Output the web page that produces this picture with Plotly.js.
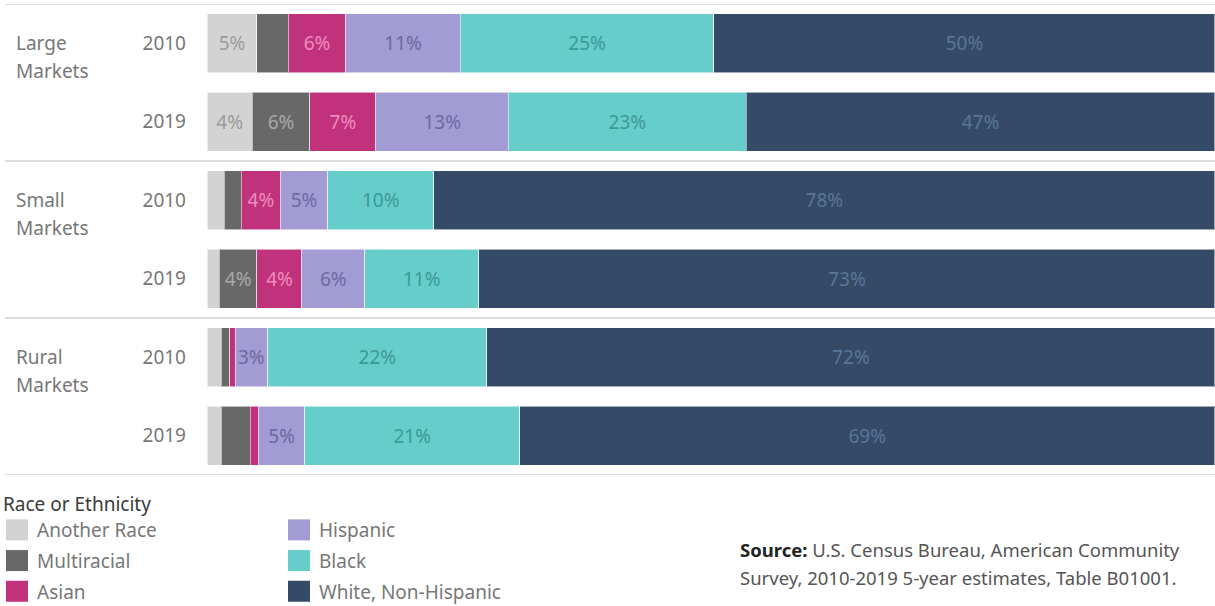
<!DOCTYPE html>
<html>
<head>
<meta charset="utf-8">
<script src="https://cdn.plot.ly/plotly-3.0.1.min.js"></script>
<style>
  html, body { margin: 0; padding: 0; background: #ffffff; }
  #chart { width: 1215px; height: 606px; }
</style>
</head>
<body>
<div id="chart"></div>
<script>
// ---------- data ----------
const groups = ['Large Markets', 'Small Markets', 'Rural Markets'];
const years = ['2010', '2019'];

// one row per group/year, top to bottom
const categories = ['Large Markets 2010', 'Large Markets 2019',
                    'Small Markets 2010', 'Small Markets 2019',
                    'Rural Markets 2010', 'Rural Markets 2019'];
const yearLabels = ['2010', '2019', '2010', '2019', '2010', '2019'];

const seriesNames = ['Another Race', 'Multiracial', 'Asian', 'Hispanic', 'Black', 'White, Non-Hispanic'];

// shares in percent
const anotherRace = [4.96, 4.49, 1.72, 1.22, 1.39, 1.39];
const multiracial = [3.08, 5.72, 1.69, 3.74, 0.85, 2.91];
const asian       = [5.75, 6.55, 3.87, 4.46, 0.54, 0.79];
const hispanic    = [11.34, 13.15, 4.69, 6.21, 3.23, 4.63];
const black       = [25.17, 23.58, 10.52, 11.35, 21.77, 21.29];
const white       = [49.70, 46.51, 77.51, 73.02, 72.22, 68.99];

// labels shown on the bars
const anotherLabels  = ['5%', '4%', '', '', '', ''];
const multiLabels    = ['', '6%', '', '4%', '', ''];
const asianLabels    = ['6%', '7%', '4%', '4%', '', ''];
const hispanicLabels = ['11%', '13%', '5%', '6%', '3%', '5%'];
const blackLabels    = ['25%', '23%', '10%', '11%', '22%', '21%'];
const whiteLabels    = ['50%', '47%', '78%', '73%', '72%', '69%'];

// ---------- styles ----------
const FONT = '"Noto Sans", "DejaVu Sans", sans-serif';
const fillColors = ['#d3d3d3', '#686868', '#c1327c', '#a39cd4', '#66cdcb', '#344a66'];
const textColors = ['#9b9b9b', '#a9a9a9', '#ee8cbf', '#6d69a3', '#3e9897', '#5a7698'];
const legendOf   = ['legend', 'legend', 'legend', 'legend2', 'legend2', 'legend2'];

const values = [anotherRace, multiracial, asian, hispanic, black, white];
const labels = [anotherLabels, multiLabels, asianLabels, hispanicLabels, blackLabels, whiteLabels];

// pixel helpers for layout placement (plot area 207..1215 x 4..475)
const PL = 207, PR = 1215, PT = 4, PB = 475;
const px2x = p => (p - PL) / (PR - PL);
const px2y = p => (PB - p) / (PB - PT);

const traces = seriesNames.map((name, i) => ({
  type: 'bar',
  orientation: 'h',
  name: name,
  y: categories,
  x: values[i],
  text: labels[i],
  textposition: 'inside',
  insidetextanchor: 'middle',
  textangle: 0,
  constraintext: 'none',
  cliponaxis: false,
  textfont: { family: FONT, size: 19, color: textColors[i] },
  marker: { color: fillColors[i], line: { color: 'rgba(255,255,255,0.55)', width: 1 } },
  hoverinfo: 'none',
  legend: legendOf[i],
  legendgroup: name
}));

const sepColor = '#dcdcdc';
const shapes = [-0.5, 1.5, 3.5, 5.5].map(v => ({
  type: 'line', xref: 'paper', yref: 'y',
  x0: px2x(5), x1: 1, y0: v, y1: v,
  line: { color: sepColor, width: 2 }
}));

const annotations = [];
groups.forEach((g, gi) => {
  const cat = categories[gi * 2];
  const words = g.split(' ');
  annotations.push({
    xref: 'paper', yref: 'y', x: px2x(14), y: cat, xanchor: 'left', yanchor: 'middle',
    text: words[0], showarrow: false, font: { family: FONT, size: 19, color: '#777777' }
  });
  annotations.push({
    xref: 'paper', yref: 'y', x: px2x(14), y: cat, xanchor: 'left', yanchor: 'middle', yshift: -28,
    text: words[1], showarrow: false, font: { family: FONT, size: 19, color: '#777777' }
  });
});
annotations.push({
  xref: 'paper', yref: 'paper', x: px2x(1), y: px2y(504), xanchor: 'left', yanchor: 'middle',
  text: 'Race or Ethnicity', showarrow: false, font: { family: FONT, size: 19, color: '#3a3a3a' }
});
annotations.push({
  xref: 'paper', yref: 'paper', x: px2x(738), y: px2y(549), xanchor: 'left', yanchor: 'middle',
  text: '<b style="color:#222">Source:</b> U.S. Census Bureau, American Community',
  showarrow: false, font: { family: FONT, size: 18.5, color: '#555555' }
});
annotations.push({
  xref: 'paper', yref: 'paper', x: px2x(738), y: px2y(577), xanchor: 'left', yanchor: 'middle',
  text: 'Survey, 2010-2019 5-year estimates, Table B01001.',
  showarrow: false, font: { family: FONT, size: 18.5, color: '#555555' }
});

const legendCommon = {
  orientation: 'v', xanchor: 'left', yanchor: 'top',
  font: { family: FONT, size: 19, color: '#777777' },
  bgcolor: 'rgba(0,0,0,0)', borderwidth: 0,
  traceorder: 'grouped', tracegroupgap: 3,
  itemclick: false, itemdoubleclick: false
};

const layout = {
  width: 1215, height: 606,
  margin: { l: PL, r: 1215 - PR, t: PT, b: 606 - PB, pad: 0, autoexpand: false },
  paper_bgcolor: '#ffffff', plot_bgcolor: '#ffffff',
  barmode: 'stack', bargap: 0.25,
  uniformtext: { mode: 'show', minsize: 19 },
  font: { family: FONT, color: '#777777' },
  xaxis: { range: [0, 100.01], visible: false, fixedrange: true },
  yaxis: {
    type: 'category', categoryorder: 'array', categoryarray: categories,
    range: [categories.length - 0.5, -0.5], autorange: false,
    tickvals: categories, ticktext: yearLabels,
    ticks: '', showgrid: false, zeroline: false, showline: false,
    ticklabelstandoff: 20,
    tickfont: { family: FONT, size: 19, color: '#777777' }, fixedrange: true
  },
  showlegend: true,
  legend: Object.assign({}, legendCommon, { x: px2x(-3), y: px2y(511) }),
  legend2: Object.assign({}, legendCommon, { x: px2x(279), y: px2y(511) }),
  shapes: shapes,
  annotations: annotations
};

Plotly.newPlot('chart', traces, layout, { displayModeBar: false, staticPlot: true }).then(() => {
  // enlarge legend swatches to match the reference square size
  document.querySelectorAll('.legendpoints path').forEach(p => {
    p.setAttribute('d', 'M11,10.5H-11V-10.5H11Z');
    p.style.strokeWidth = '0px';
  });
});
</script>
</body>
</html>
